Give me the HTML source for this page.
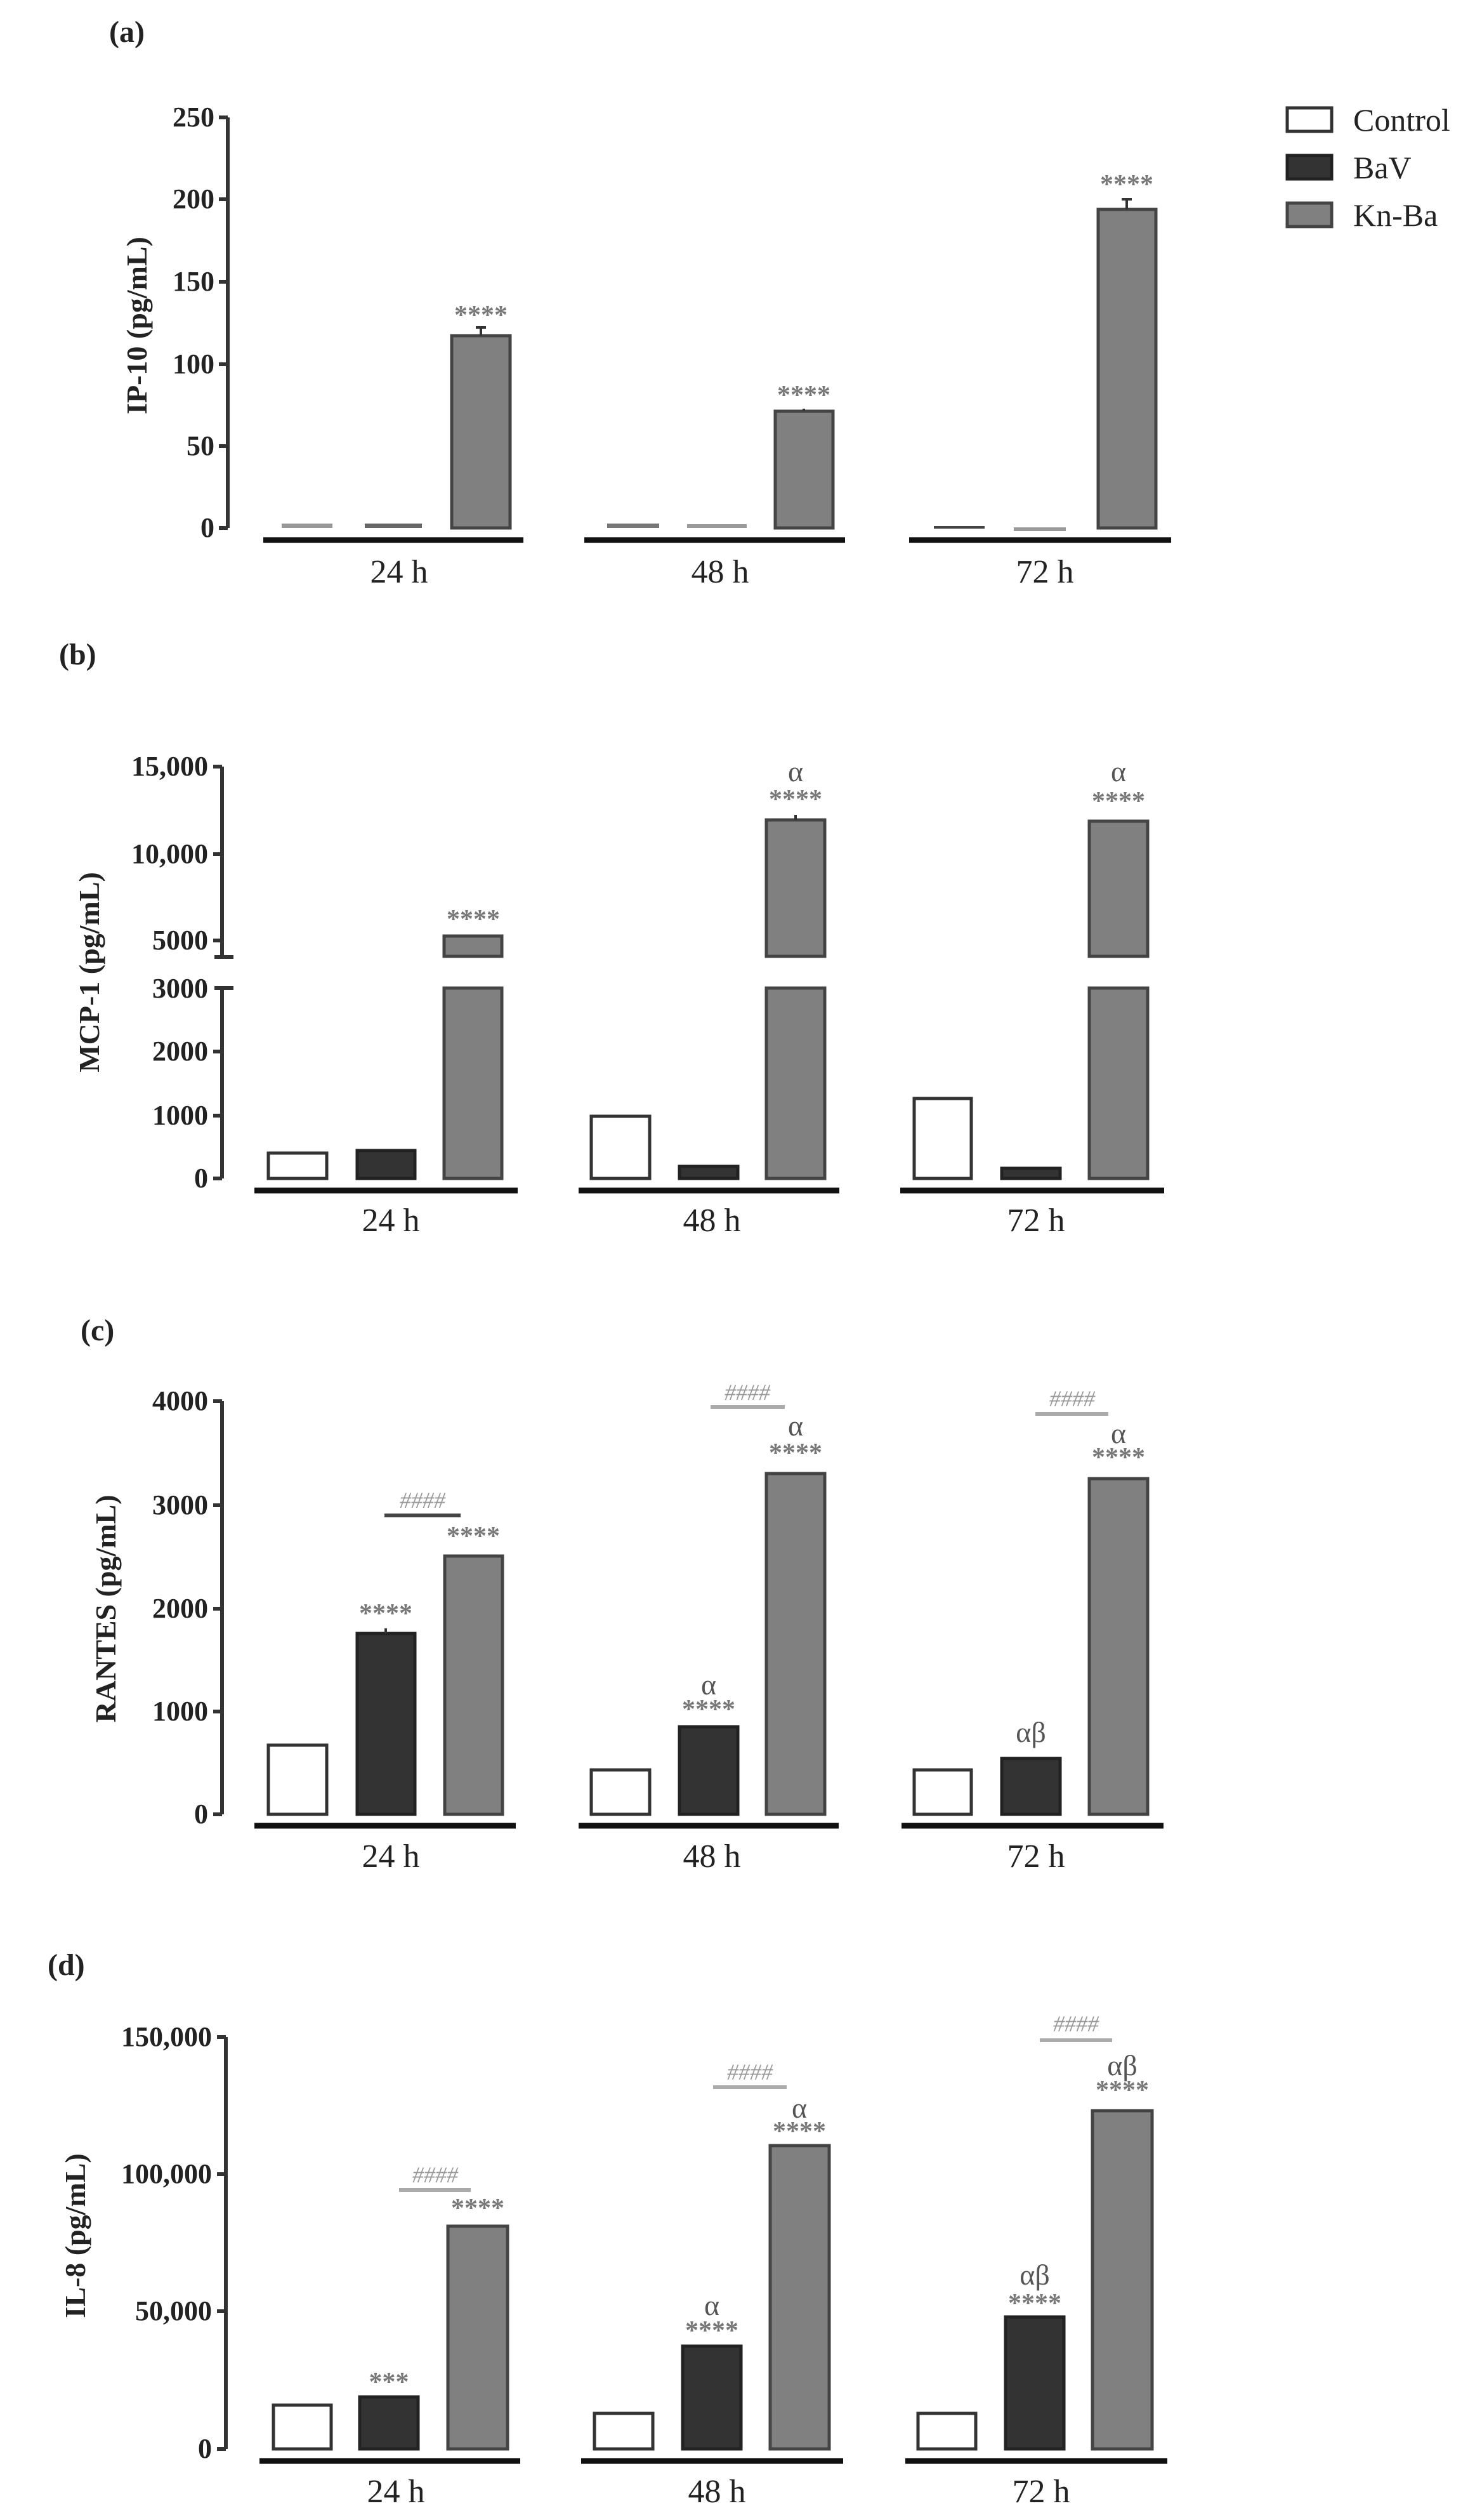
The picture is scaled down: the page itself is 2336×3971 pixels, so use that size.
<!DOCTYPE html>
<html><head><meta charset="utf-8"><style>
html,body{margin:0;padding:0;background:#fff;}
svg{display:block;}
text{font-family:"Liberation Serif",serif;}
.t{font-size:44px;font-weight:bold;text-anchor:end;fill:#222;}
.x{font-size:52px;text-anchor:middle;fill:#222;}
.yt{font-size:46px;font-weight:bold;text-anchor:middle;fill:#222;}
.p{font-size:48px;font-weight:bold;fill:#222;}
.s{font-size:42px;font-weight:bold;text-anchor:middle;fill:#777;}
.a{font-size:46px;text-anchor:middle;fill:#555;}
.h{font-size:36px;font-style:italic;text-anchor:middle;fill:#999;}
.lg{font-size:50px;fill:#222;}
.c{fill:#fff;stroke:#333;stroke-width:5;}
.b{fill:#333;stroke:#222;stroke-width:5;}
.k{fill:#808080;stroke:#444;stroke-width:5;}
.ax{stroke:#333;stroke-width:6;fill:none;}
.gl{stroke:#111;stroke-width:9;}
.hl{stroke:#aaa;stroke-width:6;}
.e{stroke:#333;stroke-width:4;}
</style></head><body>
<svg width="2336" height="3971" viewBox="0 0 2336 3971" xmlns="http://www.w3.org/2000/svg">
<!-- Legend -->
<rect x="2029" y="170" width="70" height="37" class="c"/><text x="2133" y="206" class="lg">Control</text>
<rect x="2029" y="245" width="70" height="37" class="b"/><text x="2133" y="281" class="lg">BaV</text>
<rect x="2029" y="320" width="70" height="37" class="k"/><text x="2133" y="356" class="lg">Kn-Ba</text>

<!-- Panel (a) -->
<text x="172" y="66" class="p">(a)</text>
<path class="ax" d="M359 185V832M345 185H359M345 314H359M345 444H359M345 574H359M345 703H359M345 832H359"/>
<text x="338" y="199" class="t">250</text><text x="338" y="328" class="t">200</text><text x="338" y="458" class="t">150</text><text x="338" y="588" class="t">100</text><text x="338" y="717" class="t">50</text><text x="338" y="846" class="t">0</text>
<text transform="translate(231,513) rotate(-90)" class="yt">IP-10 (pg/mL)</text>
<line x1="415" y1="851" x2="825" y2="851" class="gl"/><line x1="921" y1="851" x2="1332" y2="851" class="gl"/><line x1="1433" y1="851" x2="1846" y2="851" class="gl"/>
<text x="629" y="918" class="x">24 h</text><text x="1135" y="918" class="x">48 h</text><text x="1647" y="918" class="x">72 h</text>
<rect x="444" y="825" width="80" height="7" fill="#999"/><rect x="575" y="825" width="90" height="7" fill="#666"/>
<rect x="712" y="529" width="92" height="303" class="k"/><line x1="758" y1="529" x2="758" y2="516" class="e"/><line x1="750" y1="516" x2="766" y2="516" class="e"/>
<text x="758" y="510" class="s">****</text>
<rect x="957" y="825" width="82" height="7" fill="#777"/><rect x="1083" y="826" width="94" height="6" fill="#999"/>
<rect x="1222" y="648" width="91" height="184" class="k"/><line x1="1267" y1="648" x2="1267" y2="644" class="e"/>
<text x="1267" y="636" class="s">****</text>
<rect x="1472" y="829" width="80" height="4" fill="#444"/><rect x="1598" y="831" width="82" height="6" fill="#999"/>
<rect x="1731" y="330" width="91" height="502" class="k"/><line x1="1776" y1="330" x2="1776" y2="314" class="e"/><line x1="1768" y1="314" x2="1784" y2="314" class="e"/>
<text x="1776" y="304" class="s">****</text>

<!-- Panel (b) -->
<text x="93" y="1047" class="p">(b)</text>
<path class="ax" d="M350 1208V1508M336 1208H350M336 1346H350M336 1482H350M338 1508H368M350 1557V1857M338 1557H368M336 1657H350M336 1758H350M336 1857H350"/>
<text x="328" y="1222" class="t">15,000</text><text x="328" y="1360" class="t">10,000</text><text x="328" y="1496" class="t">5000</text>
<text x="328" y="1572" class="t">3000</text><text x="328" y="1671" class="t">2000</text><text x="328" y="1772" class="t">1000</text><text x="328" y="1871" class="t">0</text>
<text transform="translate(156,1532) rotate(-90)" class="yt">MCP-1 (pg/mL)</text>
<line x1="401" y1="1876" x2="816" y2="1876" class="gl"/><line x1="912" y1="1876" x2="1323" y2="1876" class="gl"/><line x1="1419" y1="1876" x2="1835" y2="1876" class="gl"/>
<text x="616" y="1940" class="x">24 h</text><text x="1122" y="1940" class="x">48 h</text><text x="1633" y="1940" class="x">72 h</text>
<rect x="423" y="1817" width="92" height="40" class="c"/>
<rect x="563" y="1813" width="91" height="44" class="b"/>
<rect x="700" y="1475" width="91" height="32" class="k"/><rect x="700" y="1557" width="91" height="300" class="k"/>
<text x="746" y="1462" class="s">****</text>
<rect x="932" y="1759" width="92" height="98" class="c"/>
<rect x="1071" y="1838" width="92" height="19" class="b"/>
<rect x="1208" y="1292" width="92" height="215" class="k"/><rect x="1208" y="1557" width="92" height="300" class="k"/>
<line x1="1254" y1="1292" x2="1254" y2="1284" class="e"/>
<text x="1254" y="1273" class="s">****</text><text x="1254" y="1231" class="a">α</text>
<rect x="1441" y="1731" width="90" height="126" class="c"/>
<rect x="1579" y="1841" width="92" height="16" class="b"/>
<rect x="1717" y="1294" width="92" height="213" class="k"/><rect x="1717" y="1557" width="92" height="300" class="k"/>
<text x="1763" y="1276" class="s">****</text><text x="1763" y="1231" class="a">α</text>

<!-- Panel (c) -->
<text x="127" y="2112" class="p">(c)</text>
<path class="ax" d="M350 2208V2859M336 2208H350M336 2372H350M336 2535H350M336 2697H350M336 2859H350"/>
<text x="328" y="2222" class="t">4000</text><text x="328" y="2386" class="t">3000</text><text x="328" y="2549" class="t">2000</text><text x="328" y="2711" class="t">1000</text><text x="328" y="2873" class="t">0</text>
<text transform="translate(182,2535) rotate(-90)" class="yt">RANTES (pg/mL)</text>
<line x1="401" y1="2877" x2="813" y2="2877" class="gl"/><line x1="912" y1="2877" x2="1322" y2="2877" class="gl"/><line x1="1421" y1="2877" x2="1834" y2="2877" class="gl"/>
<text x="616" y="2942" class="x">24 h</text><text x="1122" y="2942" class="x">48 h</text><text x="1633" y="2942" class="x">72 h</text>
<rect x="423" y="2750" width="92" height="109" class="c"/>
<rect x="563" y="2574" width="91" height="285" class="b"/><line x1="608" y1="2574" x2="608" y2="2566" class="e"/>
<text x="608" y="2556" class="s">****</text>
<rect x="701" y="2452" width="91" height="407" class="k"/>
<text x="746" y="2434" class="s">****</text>
<line x1="606" y1="2388" x2="726" y2="2388" class="hl" style="stroke:#444"/><text x="666" y="2376" class="h">####</text>
<rect x="932" y="2789" width="92" height="70" class="c"/>
<rect x="1071" y="2721" width="92" height="138" class="b"/>
<text x="1117" y="2707" class="s">****</text><text x="1117" y="2670" class="a">α</text>
<rect x="1208" y="2322" width="92" height="537" class="k"/>
<text x="1254" y="2303" class="s">****</text><text x="1254" y="2262" class="a">α</text>
<line x1="1120" y1="2217" x2="1237" y2="2217" class="hl"/><text x="1178" y="2206" class="h">####</text>
<rect x="1441" y="2789" width="90" height="70" class="c"/>
<rect x="1579" y="2771" width="92" height="88" class="b"/>
<text x="1625" y="2745" class="a">αβ</text>
<rect x="1717" y="2330" width="92" height="529" class="k"/>
<text x="1763" y="2310" class="s">****</text><text x="1763" y="2274" class="a">α</text>
<line x1="1632" y1="2228" x2="1747" y2="2228" class="hl"/><text x="1690" y="2216" class="h">####</text>

<!-- Panel (d) -->
<text x="75" y="3112" class="p">(d)</text>
<path class="ax" d="M356 3210V3859M342 3210H356M342 3426H356M342 3642H356M342 3859H356"/>
<text x="334" y="3224" class="t">150,000</text><text x="334" y="3440" class="t">100,000</text><text x="334" y="3656" class="t">50,000</text><text x="334" y="3873" class="t">0</text>
<text transform="translate(134,3523) rotate(-90)" class="yt">IL-8 (pg/mL)</text>
<line x1="409" y1="3878" x2="820" y2="3878" class="gl"/><line x1="916" y1="3878" x2="1329" y2="3878" class="gl"/><line x1="1427" y1="3878" x2="1840" y2="3878" class="gl"/>
<text x="624" y="3943" class="x">24 h</text><text x="1130" y="3943" class="x">48 h</text><text x="1641" y="3943" class="x">72 h</text>
<rect x="431" y="3790" width="91" height="69" class="c"/>
<rect x="567" y="3777" width="92" height="82" class="b"/>
<text x="613" y="3767" class="s">***</text>
<rect x="706" y="3508" width="94" height="351" class="k"/>
<text x="753" y="3493" class="s">****</text>
<line x1="629" y1="3451" x2="742" y2="3451" class="hl"/><text x="686" y="3439" class="h">####</text>
<rect x="937" y="3803" width="92" height="56" class="c"/>
<rect x="1076" y="3697" width="92" height="162" class="b"/>
<text x="1122" y="3686" class="s">****</text><text x="1122" y="3648" class="a">α</text>
<rect x="1214" y="3381" width="93" height="478" class="k"/>
<text x="1260" y="3372" class="s">****</text><text x="1260" y="3337" class="a">α</text>
<line x1="1124" y1="3289" x2="1240" y2="3289" class="hl"/><text x="1182" y="3277" class="h">####</text>
<rect x="1447" y="3803" width="91" height="56" class="c"/>
<rect x="1585" y="3651" width="92" height="208" class="b"/>
<text x="1631" y="3643" class="s">****</text><text x="1631" y="3600" class="a">αβ</text>
<rect x="1722" y="3326" width="94" height="533" class="k"/>
<text x="1769" y="3307" class="s">****</text><text x="1769" y="3270" class="a">αβ</text>
<line x1="1639" y1="3215" x2="1753" y2="3215" class="hl"/><text x="1696" y="3201" class="h">####</text>
</svg>
</body></html>
